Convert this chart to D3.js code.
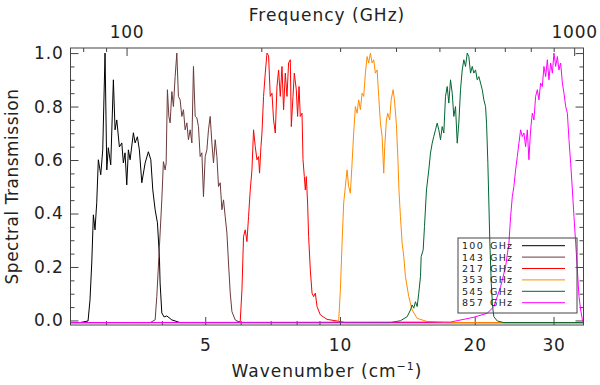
<!DOCTYPE html>
<html>
<head>
<meta charset="utf-8">
<script src="https://cdn.jsdelivr.net/npm/d3@7"></script>
<style>
  body { margin: 0; background: #fff; }
  svg text { font-family: "DejaVu Sans", sans-serif; fill: #222; }
</style>
</head>
<body>
<svg id="chart" width="600" height="385"></svg>
<script>
// band names and line colours, in drawing order
const bands = ["100 GHz", "143 GHz", "217 GHz", "353 GHz", "545 GHz", "857 GHz"];
const colors = ["#000000", "#6b3a3a", "#ff0000", "#ff8c00", "#006633", "#ff00ff"];

// wavenumber (cm^-1) and transmission, one pair per band
const wn100 = [2.5, 2.625, 2.736, 2.764, 2.789, 2.812, 2.836, 2.861, 2.885, 2.921, 2.951, 2.986, 3.013, 3.037, 3.075, 3.117, 3.144, 3.172, 3.215, 3.255, 3.281, 3.310, 3.339, 3.367, 3.397, 3.455, 3.485, 3.527, 3.563, 3.608, 3.670, 3.732, 3.779, 3.818, 3.864, 3.910, 3.950, 3.964, 3.999, 4.047, 4.103, 4.211, 4.394, 35];
const tr100 = [-0.008, -0.008, -0.002, 0.077, 0.215, 0.395, 0.339, 0.440, 0.601, 0.545, 0.638, 1.0, 0.563, 0.646, 0.582, 0.900, 0.713, 0.750, 0.649, 0.664, 0.589, 0.627, 0.507, 0.638, 0.601, 0.702, 0.664, 0.687, 0.638, 0.515, 0.589, 0.631, 0.601, 0.488, 0.414, 0.365, 0.238, 0.140, 0.028, 0.013, 0.017, 0.002, -0.008, -0.008];

const wn143 = [2.5, 3.765, 3.864, 3.897, 3.950, 3.999, 4.032, 4.068, 4.089, 4.116, 4.146, 4.174, 4.211, 4.245, 4.283, 4.320, 4.356, 4.394, 4.433, 4.470, 4.509, 4.549, 4.586, 4.627, 4.668, 4.706, 4.748, 4.789, 4.829, 4.871, 4.914, 4.955, 4.999, 5.042, 5.084, 5.129, 5.174, 5.217, 5.263, 5.309, 5.353, 5.400, 5.448, 5.493, 5.541, 5.590, 5.636, 5.686, 5.736, 5.834, 5.986, 35];
const tr143 = [-0.008, -0.008, 0.002, 0.089, 0.276, 0.451, 0.594, 0.563, 0.589, 0.863, 0.763, 0.739, 0.856, 0.800, 0.912, 1.0, 0.838, 0.825, 0.763, 0.788, 0.713, 0.739, 0.676, 0.713, 0.664, 0.950, 0.763, 0.758, 0.725, 0.613, 0.627, 0.463, 0.613, 0.638, 0.713, 0.763, 0.664, 0.589, 0.676, 0.613, 0.501, 0.515, 0.414, 0.451, 0.388, 0.327, 0.215, 0.103, 0.033, 0.002, -0.008, -0.008];

const wn217 = [2.5, 5.834, 5.986, 6.039, 6.089, 6.142, 6.196, 6.248, 6.303, 6.358, 6.411, 6.467, 6.524, 6.578, 6.612, 6.660, 6.694, 6.749, 6.809, 6.869, 6.926, 6.986, 7.048, 7.106, 7.169, 7.232, 7.292, 7.356, 7.420, 7.482, 7.548, 7.614, 7.677, 7.745, 7.785, 7.853, 7.906, 7.988, 8.041, 8.100, 8.154, 8.226, 8.268, 8.324, 8.367, 8.410, 8.466, 8.510, 8.585, 8.661, 8.732, 8.809, 8.887, 9.039, 9.356, 9.851, 10.281, 35];
const tr217 = [-0.008, -0.008, -0.004, 0.114, 0.314, 0.339, 0.295, 0.388, 0.488, 0.563, 0.713, 0.650, 0.601, 0.613, 0.551, 0.650, 0.701, 0.838, 0.925, 1.0, 0.99, 0.838, 0.850, 0.750, 0.701, 0.875, 0.937, 0.838, 0.950, 0.788, 0.925, 0.838, 0.963, 0.975, 0.725, 0.838, 0.925, 0.863, 0.763, 0.875, 0.763, 0.775, 0.601, 0.538, 0.488, 0.538, 0.439, 0.314, 0.189, 0.102, 0.089, 0.102, 0.052, 0.021, 0.004, -0.002, -0.008, -0.008];

const wn353 = [2.5, 9.517, 9.932, 10.020, 10.108, 10.192, 10.281, 10.372, 10.457, 10.549, 10.642, 10.730, 10.825, 10.920, 11.010, 11.107, 11.205, 11.298, 11.397, 11.497, 11.592, 11.694, 11.797, 11.895, 11.999, 12.105, 12.205, 12.313, 12.421, 12.524, 12.588, 12.699, 12.784, 12.917, 13.010, 13.145, 13.233, 13.370, 13.474, 13.544, 13.649, 13.769, 13.883, 14.005, 14.245, 14.496, 14.875, 15.661, 17.361, 35];
const tr353 = [-0.008, -0.008, -0.004, 0.114, 0.289, 0.439, 0.501, 0.563, 0.501, 0.476, 0.588, 0.701, 0.800, 0.775, 0.825, 0.788, 0.850, 0.838, 0.925, 0.987, 0.963, 1.0, 0.963, 0.975, 0.925, 0.937, 0.838, 0.738, 0.688, 0.551, 0.650, 0.750, 0.775, 0.750, 0.825, 0.863, 0.825, 0.732, 0.601, 0.488, 0.388, 0.289, 0.239, 0.164, 0.089, 0.039, 0.008, -0.004, -0.008, -0.008];

const wn545 = [2.5, 12.313, 12.963, 13.649, 14.128, 14.370, 14.496, 14.617, 14.745, 14.875, 14.998, 15.130, 15.185, 15.342, 15.445, 15.605, 15.791, 15.930, 16.070, 16.203, 16.345, 16.489, 16.626, 16.772, 16.919, 17.059, 17.209, 17.361, 17.504, 17.658, 17.814, 17.961, 18.119, 18.279, 18.430, 18.592, 18.755, 18.911, 19.077, 19.245, 19.404, 19.575, 19.747, 19.910, 20.086, 20.262, 20.430, 20.610, 20.791, 20.963, 21.147, 21.256, 21.399, 21.510, 21.621, 21.777, 21.924, 22.071, 22.461, 23.238, 35];
const tr545 = [-0.008, -0.008, -0.008, -0.001, 0.014, 0.039, 0.058, 0.046, 0.070, 0.052, 0.102, 0.164, 0.239, 0.264, 0.351, 0.488, 0.563, 0.626, 0.663, 0.688, 0.713, 0.738, 0.713, 0.676, 0.725, 0.701, 0.838, 0.875, 0.813, 0.900, 0.850, 0.763, 0.800, 0.663, 0.738, 0.863, 0.937, 0.975, 0.950, 1.0, 0.987, 0.925, 0.950, 0.925, 0.937, 0.900, 0.912, 0.888, 0.863, 0.825, 0.800, 0.738, 0.588, 0.439, 0.289, 0.139, 0.052, 0.014, -0.002, -0.008, -0.008];

const wn857 = [2.5, 17.658, 19.910, 21.333, 22.071, 22.846, 23.442, 23.844, 24.054, 24.266, 24.466, 24.682, 24.899, 25.105, 25.326, 25.548, 25.760, 25.986, 26.215, 26.432, 26.664, 26.899, 27.122, 27.360, 27.601, 27.829, 28.074, 28.321, 28.556, 28.807, 29.060, 29.301, 29.558, 29.818, 30.065, 30.330, 30.596, 30.850, 31.121, 31.395, 31.655, 31.933, 32.214, 32.480, 32.766, 33.054, 33.328, 33.621, 33.917, 34.198, 34.498, 34.802, 35];
const tr857 = [-0.008, -0.006, 0.012, 0.027, 0.052, 0.126, 0.201, 0.289, 0.388, 0.463, 0.501, 0.563, 0.613, 0.663, 0.713, 0.688, 0.701, 0.650, 0.713, 0.601, 0.713, 0.775, 0.750, 0.838, 0.863, 0.825, 0.888, 0.875, 0.950, 0.912, 0.975, 0.900, 0.963, 0.925, 1.0, 0.950, 0.987, 0.937, 0.963, 0.888, 0.850, 0.800, 0.775, 0.676, 0.588, 0.488, 0.388, 0.289, 0.189, 0.089, 0.039, 0.002, -0.008];

// tick values
const wnMajor = [5, 10, 20, 30];
const wnMinor = [3, 4, 6, 7, 8, 9];
const ghzMajor = [100, 1000];
const ghzMinor = [80, 90, 200, 300, 400, 500, 600, 700, 800, 900];
const yMajor = [0, 0.2, 0.4, 0.6, 0.8, 1.0];
const yMinor = [0.05, 0.1, 0.15, 0.25, 0.3, 0.35, 0.45, 0.5, 0.55, 0.65, 0.7, 0.75, 0.85, 0.9, 0.95];

const C_GHZ = 29.9792458; // GHz per cm^-1
const wnRange = [2.5, 35];
const yRange = [-0.017, 1.019];

const series = [[wn100, tr100], [wn143, tr143], [wn217, tr217], [wn353, tr353], [wn545, tr545], [wn857, tr857]]
  .map(([w, t], i) => ({ name: bands[i], color: colors[i], pts: w.map((v, j) => [v, t[j]]) }));

const svg = d3.select('#chart');
const plotL = 70.5, plotR = 583.5, plotT = 48, plotB = 325;

const x = d3.scaleLog().domain(wnRange).range([plotL, plotR]);
const xTop = d3.scaleLog().domain(wnRange.map(d => d * C_GHZ)).range([plotL, plotR]);
const y = d3.scaleLinear().domain(yRange).range([plotB, plotT]);

const font = '17px';
const ink = '#444';

// axis helper: ticks point into the plot, no domain path (the frame is drawn separately)
function drawAxis(axis, tx, ty) {
  const g = svg.append('g').attr('transform', `translate(${tx},${ty})`).call(axis);
  g.select('.domain').remove();
  g.selectAll('.tick line').attr('stroke', ink);
  g.selectAll('.tick text').attr('fill', '#222').style('font-size', font).style('letter-spacing', '0.8px');
  return g;
}

// bottom axis (wavenumber)
drawAxis(d3.axisBottom(x).tickValues(wnMajor).tickFormat(d3.format('d')).tickSize(-8).tickPadding(14), 0, plotB);
drawAxis(d3.axisBottom(x).tickValues(wnMinor).tickFormat('').tickSize(-4), 0, plotB);
// top axis (frequency)
drawAxis(d3.axisTop(xTop).tickValues(ghzMajor).tickFormat(d3.format('d')).tickSize(-8).tickPadding(10), 0, plotT);
drawAxis(d3.axisTop(xTop).tickValues(ghzMinor).tickFormat('').tickSize(-4), 0, plotT);
// left and right axes
drawAxis(d3.axisLeft(y).tickValues(yMajor).tickFormat(d3.format('.1f')).tickSize(-8).tickPadding(7), plotL, 0);
drawAxis(d3.axisLeft(y).tickValues(yMinor).tickFormat('').tickSize(-4), plotL, 0);
drawAxis(d3.axisRight(y).tickValues(yMajor).tickFormat('').tickSize(-8), plotR, 0);
drawAxis(d3.axisRight(y).tickValues(yMinor).tickFormat('').tickSize(-4), plotR, 0);

// clip for the curves
svg.append('clipPath').attr('id', 'plot-clip')
  .append('rect').attr('x', plotL).attr('y', plotT).attr('width', plotR - plotL).attr('height', plotB - plotT);

const line = d3.line().x(d => x(d[0])).y(d => y(d[1]));

svg.append('g').attr('clip-path', 'url(#plot-clip)')
  .selectAll('path').data(series).join('path')
  .attr('d', d => line(d.pts))
  .attr('fill', 'none')
  .attr('stroke', d => d.color)
  .attr('stroke-width', 1);

// frame
svg.append('rect')
  .attr('x', plotL).attr('y', plotT)
  .attr('width', plotR - plotL).attr('height', plotB - plotT)
  .attr('fill', 'none').attr('stroke', ink).attr('stroke-width', 1);

// axis titles
const midX = (plotL + plotR) / 2;
svg.append('text').attr('x', midX).attr('y', 21)
  .attr('text-anchor', 'middle').style('font-size', font).style('letter-spacing', '1px')
  .text('Frequency (GHz)');

const xt = svg.append('text').attr('x', midX).attr('y', 377)
  .attr('text-anchor', 'middle').style('font-size', font).style('letter-spacing', '1px');
xt.append('tspan').text('Wavenumber (cm');
xt.append('tspan').attr('dy', -7).style('font-size', '11px').text('\u22121');
xt.append('tspan').attr('dy', 7).text(')');

svg.append('text')
  .attr('transform', `translate(18,${(plotT + plotB) / 2}) rotate(-90)`)
  .attr('text-anchor', 'middle').style('font-size', font).style('letter-spacing', '0.5px')
  .text('Spectral Transmission');

// legend (no fill: the curves show through it)
const legX = 458, legY = 238, legW = 119, legH = 75, rowH = 11.4;
svg.append('rect').attr('x', legX).attr('y', legY).attr('width', legW).attr('height', legH)
  .attr('fill', 'none').attr('stroke', ink).attr('stroke-width', 1);

const rows = svg.append('g').selectAll('g').data(series).join('g')
  .attr('transform', (d, i) => `translate(${legX},${legY + 7.7 + i * rowH})`);
rows.append('text').attr('x', 4).attr('y', 3.5).style('font-size', '9.5px').style('letter-spacing', '1.3px')
  .text(d => d.name.split(' ')[0]);
rows.append('text').attr('x', 32).attr('y', 3.5).style('font-size', '9.5px').style('letter-spacing', '1.3px')
  .text(d => d.name.split(' ')[1]);
rows.append('line').attr('x1', 64).attr('x2', 107).attr('y1', 0).attr('y2', 0)
  .attr('stroke', d => d.color).attr('stroke-width', 1);
</script>
</body>
</html>
